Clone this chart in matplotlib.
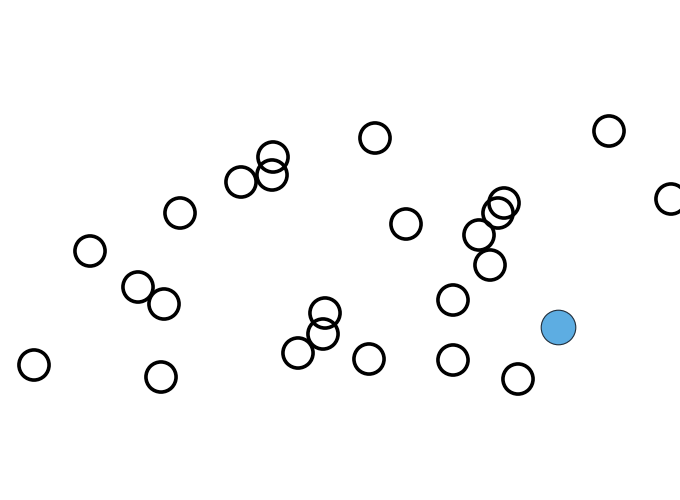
import matplotlib
matplotlib.use('Agg')
import matplotlib.pyplot as plt

# Posiciones de los puntos (coordenadas del lienzo, y hacia abajo)
x_vals = [34, 90, 138, 164, 161, 180, 241, 273, 272, 298, 325, 323, 375, 369,
          406, 453, 453, 479, 498, 504, 490, 518, 609, 671]
y_vals = [365, 251, 287, 304, 377, 213, 182, 157, 175, 353, 313, 334, 138, 359,
          224, 300, 360, 235, 213, 203, 265, 379, 131, 199]

# Punto resaltado
x_destacado = [558]
y_destacado = [327]

fig = plt.figure(figsize=(6.8, 5), dpi=100)
ax = fig.add_axes([0, 0, 1, 1])

ax.scatter(x_vals, y_vals, s=470, facecolors='none', edgecolors='black', linewidths=2.6)
ax.scatter(x_destacado, y_destacado, s=620, facecolors='#5dade2', edgecolors='#1f2d3a', linewidths=0.8)

ax.set_xlim(0, 680)
ax.set_ylim(500, 0)
ax.axis('off')

fig.savefig('out.png', dpi=100)
